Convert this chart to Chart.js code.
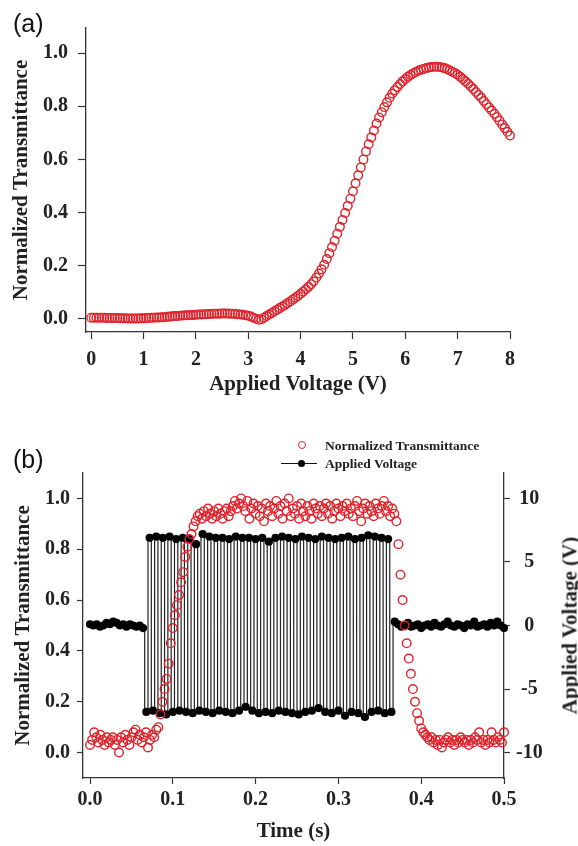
<!DOCTYPE html>
<html>
<head>
<meta charset="utf-8">
<script src="https://cdn.jsdelivr.net/npm/chart.js@4.4.0/dist/chart.umd.min.js"></script>
<style>
  body { margin: 0; background: #fff; width: 578px; height: 846px; overflow: hidden; position: relative; }
  .panel { position: absolute; left: 0; }
  .tag { position: absolute; font-family: "Liberation Sans", Arial, sans-serif; font-size: 25px; line-height: 1; color: #111; }
  .leg { position: absolute; font-family: "Liberation Serif", "Times New Roman", serif; font-weight: bold; font-size: 13.5px; line-height: 1; color: #222; white-space: nowrap; }
  .ring { position: absolute; box-sizing: border-box; width: 8px; height: 8px; border: 1.3px solid #e0222b; border-radius: 50%; }
  .bar { position: absolute; height: 1.2px; background: #111; }
  .dot { position: absolute; width: 7px; height: 7px; border-radius: 50%; background: #000; }
  .rtitle { position: absolute; width: 240px; text-align: center; font-family: "Liberation Serif", "Times New Roman", serif;
            font-weight: bold; font-size: 21px; line-height: 1; color: #222; transform: rotate(-90deg); white-space: nowrap; }
</style>
</head>
<body>
<div class="panel" style="top:0"><canvas id="chartA" width="578" height="410"></canvas></div>
<div class="panel" style="top:410px"><canvas id="chartB" width="578" height="436"></canvas></div>

<div class="tag" style="left:13px; top:11px">(a)</div>
<div class="tag" style="left:13px; top:447px">(b)</div>

<div class="ring" style="left:298px; top:441px"></div>
<div class="leg" style="left:325px; top:439px">Normalized Transmittance</div>
<div class="bar" style="left:281px; top:463px; width:36px"></div>
<div class="dot" style="left:298px; top:460px"></div>
<div class="leg" style="left:325px; top:457px">Applied Voltage</div>

<!-- right axis title reads bottom to top in the figure -->
<div class="rtitle" style="left:450px; top:615px">Applied Voltage (V)</div>

<script>
const red = "#e0222b";

// (a) transmittance against applied voltage
const voltsA = [
  0, 0.05, 0.1, 0.15, 0.2, 0.25, 0.3, 0.35, 0.4, 0.45,
  0.5, 0.55, 0.6, 0.65, 0.7, 0.75, 0.8, 0.85, 0.9, 0.95,
  1, 1.05, 1.1, 1.15, 1.2, 1.25, 1.3, 1.35, 1.4, 1.45,
  1.5, 1.55, 1.6, 1.65, 1.7, 1.75, 1.8, 1.85, 1.9, 1.95,
  2, 2.05, 2.1, 2.15, 2.2, 2.25, 2.3, 2.35, 2.4, 2.45,
  2.5, 2.55, 2.6, 2.65, 2.7, 2.75, 2.8, 2.85, 2.9, 2.95,
  3, 3.05, 3.1, 3.15, 3.2, 3.25, 3.3, 3.35, 3.4, 3.45,
  3.5, 3.55, 3.6, 3.65, 3.7, 3.75, 3.8, 3.85, 3.9, 3.95,
  4, 4.05, 4.1, 4.15, 4.2, 4.25, 4.3, 4.35, 4.4, 4.45,
  4.5, 4.55, 4.6, 4.65, 4.7, 4.75, 4.8, 4.85, 4.9, 4.95,
  5, 5.05, 5.1, 5.15, 5.2, 5.25, 5.3, 5.35, 5.4, 5.45,
  5.5, 5.55, 5.6, 5.65, 5.7, 5.75, 5.8, 5.85, 5.9, 5.95,
  6, 6.05, 6.1, 6.15, 6.2, 6.25, 6.3, 6.35, 6.4, 6.45,
  6.5, 6.55, 6.6, 6.65, 6.7, 6.75, 6.8, 6.85, 6.9, 6.95,
  7, 7.05, 7.1, 7.15, 7.2, 7.25, 7.3, 7.35, 7.4, 7.45,
  7.5, 7.55, 7.6, 7.65, 7.7, 7.75, 7.8, 7.85, 7.9, 7.95,
  8
];
const transA = [
  0.004, 0.004, 0.004, 0.004, 0.004, 0.004, 0.003, 0.003, 0.003, 0.003,
  0.003, 0.002, 0.002, 0.002, 0.001, 0.001, 0.001, 0.001, 0.001, 0.002,
  0.002, 0.003, 0.003, 0.004, 0.004, 0.005, 0.005, 0.006, 0.006, 0.007,
  0.008, 0.009, 0.010, 0.010, 0.011, 0.012, 0.013, 0.013, 0.014, 0.014,
  0.015, 0.016, 0.016, 0.017, 0.017, 0.018, 0.018, 0.019, 0.019, 0.019,
  0.020, 0.020, 0.020, 0.019, 0.019, 0.018, 0.017, 0.016, 0.015, 0.013,
  0.011, 0.008, 0.004, 0.000, -0.004, -0.002, 0.004, 0.010, 0.016, 0.022,
  0.028, 0.034, 0.040, 0.046, 0.052, 0.058, 0.065, 0.072, 0.079, 0.086,
  0.094, 0.102, 0.111, 0.120, 0.130, 0.141, 0.155, 0.170, 0.186, 0.203,
  0.225, 0.247, 0.270, 0.294, 0.320, 0.346, 0.372, 0.398, 0.425, 0.452,
  0.480, 0.510, 0.540, 0.570, 0.600, 0.630, 0.657, 0.683, 0.709, 0.735,
  0.758, 0.778, 0.797, 0.815, 0.832, 0.848, 0.861, 0.873, 0.884, 0.894,
  0.903, 0.911, 0.918, 0.924, 0.929, 0.934, 0.938, 0.941, 0.944, 0.946,
  0.948, 0.949, 0.949, 0.948, 0.946, 0.944, 0.940, 0.935, 0.930, 0.925,
  0.919, 0.911, 0.903, 0.894, 0.885, 0.875, 0.865, 0.854, 0.843, 0.832,
  0.820, 0.808, 0.796, 0.784, 0.772, 0.760, 0.746, 0.732, 0.718, 0.704,
  0.690
];
const xTicksA = [0, 1, 2, 3, 4, 5, 6, 7, 8];
const xLabelsA = ["0", "1", "2", "3", "4", "5", "6", "7", "8"];
const yTicksA = [0, 0.2, 0.4, 0.6, 0.8, 1.0];
const yLabelsA = ["0.0", "0.2", "0.4", "0.6", "0.8", "1.0"];

// (b) time response, transmittance sampled every 2.5 ms
const timeT = [
  0, 0.0025, 0.005, 0.0075, 0.01, 0.0125, 0.015, 0.0175, 0.02, 0.0225,
  0.025, 0.0275, 0.03, 0.0325, 0.035, 0.0375, 0.04, 0.0425, 0.045, 0.0475,
  0.05, 0.0525, 0.055, 0.0575, 0.06, 0.0625, 0.065, 0.0675, 0.07, 0.0725,
  0.075, 0.0775, 0.08, 0.0825, 0.085, 0.0875, 0.09, 0.0925, 0.095, 0.0975,
  0.1, 0.1025, 0.105, 0.1075, 0.11, 0.1125, 0.115, 0.1175, 0.12, 0.1225,
  0.125, 0.1275, 0.13, 0.1325, 0.135, 0.1375, 0.14, 0.1425, 0.145, 0.1475,
  0.15, 0.1525, 0.155, 0.1575, 0.16, 0.1625, 0.165, 0.1675, 0.17, 0.1725,
  0.175, 0.1775, 0.18, 0.1825, 0.185, 0.1875, 0.19, 0.1925, 0.195, 0.1975,
  0.2, 0.2025, 0.205, 0.2075, 0.21, 0.2125, 0.215, 0.2175, 0.22, 0.2225,
  0.225, 0.2275, 0.23, 0.2325, 0.235, 0.2375, 0.24, 0.2425, 0.245, 0.2475,
  0.25, 0.2525, 0.255, 0.2575, 0.26, 0.2625, 0.265, 0.2675, 0.27, 0.2725,
  0.275, 0.2775, 0.28, 0.2825, 0.285, 0.2875, 0.29, 0.2925, 0.295, 0.2975,
  0.3, 0.3025, 0.305, 0.3075, 0.31, 0.3125, 0.315, 0.3175, 0.32, 0.3225,
  0.325, 0.3275, 0.33, 0.3325, 0.335, 0.3375, 0.34, 0.3425, 0.345, 0.3475,
  0.35, 0.3525, 0.355, 0.3575, 0.36, 0.3625, 0.365, 0.3675, 0.37, 0.3725,
  0.375, 0.3775, 0.38, 0.3825, 0.385, 0.3875, 0.39, 0.3925, 0.395, 0.3975,
  0.4, 0.4025, 0.405, 0.4075, 0.41, 0.4125, 0.415, 0.4175, 0.42, 0.4225,
  0.425, 0.4275, 0.43, 0.4325, 0.435, 0.4375, 0.44, 0.4425, 0.445, 0.4475,
  0.45, 0.4525, 0.455, 0.4575, 0.46, 0.4625, 0.465, 0.4675, 0.47, 0.4725,
  0.475, 0.4775, 0.48, 0.4825, 0.485, 0.4875, 0.49, 0.4925, 0.495, 0.4975,
  0.5
];
const transB = [
  0.03, 0.05, 0.08, 0.06, 0.04, 0.07, 0.05, 0.03, 0.06, 0.04,
  0.05, 0.06, 0.03, 0.05, 0.00, 0.06, 0.04, 0.07, 0.05, 0.03,
  0.06, 0.08, 0.09, 0.05, 0.07, 0.04, 0.06, 0.08, 0.02, 0.05,
  0.07, 0.06, 0.09, 0.10, 0.15, 0.20, 0.25, 0.29, 0.35, 0.43,
  0.49, 0.54, 0.58, 0.62, 0.67, 0.71, 0.77, 0.81, 0.84, 0.86,
  0.89, 0.91, 0.93, 0.94, 0.92, 0.95, 0.93, 0.96, 0.94, 0.92,
  0.95, 0.93, 0.96, 0.94, 0.92, 0.95, 0.96, 0.93, 0.95, 0.97,
  0.99, 0.96, 0.98, 1.00, 0.97, 0.95, 0.99, 0.92, 0.96, 0.98,
  0.94, 0.97, 0.93, 0.96, 0.91, 0.98, 0.95, 0.97, 0.93, 0.96,
  0.99, 0.94, 0.97, 0.92, 0.98, 0.95, 1.00, 0.93, 0.96, 0.94,
  0.97, 0.92, 0.98, 0.95, 0.93, 0.97, 0.95, 0.92, 0.98, 0.96,
  0.94, 0.97, 0.93, 0.96, 0.98, 0.94, 0.97, 0.92, 0.95, 0.98,
  0.96, 0.93, 0.97, 0.95, 0.98, 0.94, 0.96, 0.93, 0.97, 0.99,
  0.95, 0.91, 0.96, 0.98, 0.94, 0.97, 0.95, 0.93, 0.98, 0.96,
  0.94, 0.97, 0.99, 0.95, 0.97, 0.93, 0.96, 0.94, 0.91, 0.82,
  0.70, 0.60, 0.50, 0.43, 0.37, 0.31, 0.25, 0.20, 0.155, 0.125,
  0.095, 0.08, 0.07, 0.06, 0.05, 0.06, 0.04, 0.05, 0.03, 0.05,
  0.02, 0.04, 0.05, 0.06, 0.04, 0.05, 0.03, 0.05, 0.04, 0.06,
  0.05, 0.04, 0.05, 0.03, 0.05, 0.04, 0.06, 0.05, 0.08, 0.04,
  0.05, 0.03, 0.05, 0.04, 0.08, 0.05, 0.04, 0.06, 0.05, 0.04,
  0.08
];

// applied voltage sampled every 4 ms (square drive between ~0.068 and ~0.364 s)
const timeV = [
  0, 0.004, 0.008, 0.012, 0.016, 0.02, 0.024, 0.028, 0.032, 0.036,
  0.04, 0.044, 0.048, 0.052, 0.056, 0.06, 0.064, 0.068, 0.072, 0.076,
  0.08, 0.084, 0.088, 0.092, 0.096, 0.1, 0.104, 0.108, 0.112, 0.116,
  0.12, 0.124, 0.128, 0.132, 0.136, 0.14, 0.144, 0.148, 0.152, 0.156,
  0.16, 0.164, 0.168, 0.172, 0.176, 0.18, 0.184, 0.188, 0.192, 0.196,
  0.2, 0.204, 0.208, 0.212, 0.216, 0.22, 0.224, 0.228, 0.232, 0.236,
  0.24, 0.244, 0.248, 0.252, 0.256, 0.26, 0.264, 0.268, 0.272, 0.276,
  0.28, 0.284, 0.288, 0.292, 0.296, 0.3, 0.304, 0.308, 0.312, 0.316,
  0.32, 0.324, 0.328, 0.332, 0.336, 0.34, 0.344, 0.348, 0.352, 0.356,
  0.36, 0.364, 0.368, 0.372, 0.376, 0.38, 0.384, 0.388, 0.392, 0.396,
  0.4, 0.404, 0.408, 0.412, 0.416, 0.42, 0.424, 0.428, 0.432, 0.436,
  0.44, 0.444, 0.448, 0.452, 0.456, 0.46, 0.464, 0.468, 0.472, 0.476,
  0.48, 0.484, 0.488, 0.492, 0.496, 0.5
];
const voltB = [
  0.1, 0.0, 0.1, -0.1, 0.0, 0.2, 0.1, 0.3, 0.2, 0.0,
  0.1, -0.1, 0.1, 0.0, -0.1, 0.0, -0.2, -6.8, 6.9, -6.7,
  7.0, -6.9, 6.9, -7.0, 7.0, -6.8, 6.8, -6.7, 6.9, -6.8,
  6.8, -6.9, 6.4, -6.7, 7.2, -6.8, 7.0, -6.9, 6.9, -6.7,
  6.9, -6.8, 6.8, -6.9, 7.0, -6.7, 6.9, -6.4, 6.9, -6.7,
  6.8, -6.9, 6.9, -6.8, 6.6, -6.9, 6.9, -6.7, 7.0, -6.8,
  6.9, -6.9, 6.8, -7.0, 7.0, -6.8, 6.9, -6.7, 6.8, -6.5,
  7.0, -6.8, 6.9, -6.9, 6.8, -6.7, 6.9, -7.1, 7.0, -6.8,
  6.8, -6.9, 6.9, -7.2, 7.1, -6.8, 7.0, -6.7, 6.9, -6.9,
  6.8, -6.8, 0.3, 0.1, -0.1, 0.0, 0.2, -0.1, 0.0, 0.1,
  -0.2, 0.0, 0.1, -0.1, 0.2, 0.0, -0.1, 0.1, 0.3, 0.0,
  -0.1, 0.1, 0.0, -0.2, 0.1, 0.0, 0.3, -0.1, 0.0, 0.1,
  -0.1, 0.2, 0.0, 0.3, 0.0, -0.2
];
const xTicksB = [0, 0.1, 0.2, 0.3, 0.4, 0.5];
const xLabelsB = ["0.0", "0.1", "0.2", "0.3", "0.4", "0.5"];
const yTicksB = [0, 0.2, 0.4, 0.6, 0.8, 1.0];
const yLabelsB = ["0.0", "0.2", "0.4", "0.6", "0.8", "1.0"];
const y2TicksB = [-10, -5, 0, 5, 10];
const y2LabelsB = ["-10", "-5", "0", "5", "10"];

Chart.defaults.font.family = '"Liberation Serif", "Times New Roman", serif';
Chart.defaults.font.weight = "bold";
Chart.defaults.font.size = 20;
Chart.defaults.color = "#222";

// one axis with fixed ticks, outward tick marks and no grid
function axis(opts) {
  return {
    type: "linear",
    position: opts.position,
    min: opts.min,
    max: opts.max,
    afterBuildTicks: (sc) => { sc.ticks = opts.ticks.map((v) => ({ value: v })); },
    afterFit: (sc) => {
      if (opts.width) sc.width = opts.width;
      if (opts.height) sc.height = opts.height;
    },
    ticks: {
      autoSkip: false,
      maxRotation: 0,
      padding: opts.pad,
      crossAlign: opts.crossAlign || "near",
      callback: (v, i) => opts.labels[i],
    },
    grid: { drawOnChartArea: false, drawTicks: true, tickLength: opts.tl, color: "#333", tickWidth: 1.2 },
    border: { display: true, color: "#333", width: 1.3 },
    title: {
      display: !!opts.title,
      text: opts.title || "",
      font: { size: 21, lineHeight: 1 },
      padding: opts.tpad || 0,
      color: "#222",
    },
  };
}

new Chart(document.getElementById("chartA"), {
  type: "scatter",
  data: {
    datasets: [{
      label: "Normalized Transmittance",
      data: voltsA.map((v, i) => ({ x: v, y: transA[i] })),
      showLine: false,
      pointRadius: 4.3,
      pointBorderWidth: 1.4,
      pointBorderColor: red,
      pointBackgroundColor: "rgba(0,0,0,0)",
      clip: false,
    }],
  },
  options: {
    responsive: false,
    animation: false,
    layout: { padding: { top: 28, right: 68, left: 0, bottom: 0 } },
    plugins: { legend: { display: false }, tooltip: { enabled: false } },
    scales: {
      x: axis({ position: "bottom", min: -0.1, max: 8, ticks: xTicksA, labels: xLabelsA, height: 78,
        pad: 9, tl: 7, title: "Applied Voltage (V)", tpad: { top: 0, bottom: 15 } }),
      y: axis({ position: "left", min: -0.05, max: 1.095, ticks: yTicksA, labels: yLabelsA, width: 86,
        pad: 10, tl: 8, title: "Normalized Transmittance", tpad: { top: 11, bottom: 0 } }),
    },
  },
});

new Chart(document.getElementById("chartB"), {
  type: "scatter",
  data: {
    datasets: [
      {
        label: "Normalized Transmittance",
        yAxisID: "y",
        order: 0,
        data: timeT.map((t, i) => ({ x: t, y: transB[i] })),
        showLine: false,
        pointRadius: 4.3,
        pointBorderWidth: 1.4,
        pointBorderColor: red,
        pointBackgroundColor: "rgba(0,0,0,0)",
        clip: false,
      },
      {
        label: "Applied Voltage",
        yAxisID: "y2",
        order: 1,
        data: timeV.map((t, i) => ({ x: t, y: voltB[i] })),
        showLine: true,
        stepped: "middle",
        borderColor: "#222",
        borderWidth: 1.2,
        pointRadius: 4.1,
        pointBorderWidth: 0,
        pointBackgroundColor: "#000",
        clip: false,
      },
    ],
  },
  options: {
    responsive: false,
    animation: false,
    layout: { padding: { top: 63, right: 0, left: 0, bottom: 0 } },
    plugins: { legend: { display: false }, tooltip: { enabled: false } },
    scales: {
      x: axis({ position: "bottom", min: -0.0085, max: 0.5, ticks: xTicksB, labels: xLabelsB, height: 68,
        pad: 4, tl: 6, title: "Time (s)", tpad: { top: 0, bottom: 3.5 } }),
      y: axis({ position: "left", min: -0.1, max: 1.1, ticks: yTicksB, labels: yLabelsB, width: 83,
        pad: 7, tl: 6, title: "Normalized Transmittance", tpad: { top: 13, bottom: 0 } }),
      y2: axis({ position: "right", min: -12, max: 12, ticks: y2TicksB, labels: y2LabelsB, width: 74,
        pad: 6, tl: 6, crossAlign: "center" }),
    },
  },
});
</script>
</body>
</html>
